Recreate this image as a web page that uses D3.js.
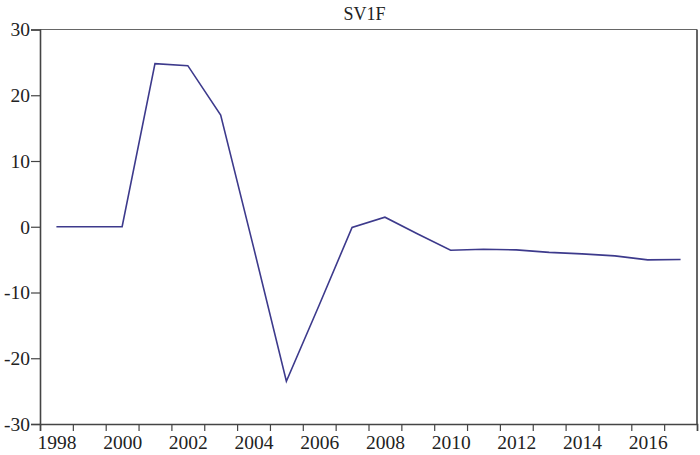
<!DOCTYPE html>
<html><head><meta charset="utf-8">
<script src="https://cdn.jsdelivr.net/npm/d3@7"></script>
<style>
body{margin:0;background:#fff;}
svg text{font-family:"Liberation Serif","Times New Roman",serif;fill:#222;}
</style></head>
<body><svg id="c" width="700" height="455"></svg>
<script>
const title = "SV1F";
const years = [1998,1999,2000,2001,2002,2003,2004,2005,2006,2007,2008,2009,2010,2011,2012,2013,2014,2015,2016,2017];
const values = [0,0,0,24.8,24.5,17.0,-3.1,-23.5,-11.9,-0.1,1.45,-1.1,-3.57,-3.42,-3.52,-3.9,-4.13,-4.43,-5.04,-4.98];
const yTicks = [-30,-20,-10,0,10,20,30];
const xLabelYears = [1998,2000,2002,2004,2006,2008,2010,2012,2014,2016];

const svg = d3.select("#c");
const L=40, R=697, T=29.5, B=424;
const x = d3.scaleLinear().domain([1998,2018]).range([L,R]);
const y = d3.scaleLinear().domain([-30,30]).range([B,T]);

// frame
svg.append("line").attr("x1",L).attr("x2",R).attr("y1",T).attr("y2",T).attr("stroke","#666").attr("stroke-width",1.2);
svg.append("line").attr("x1",R).attr("x2",R).attr("y1",T).attr("y2",B).attr("stroke","#555").attr("stroke-width",1.8);

// y axis
const ya = svg.append("g").attr("transform",`translate(${L},0)`)
  .call(d3.axisLeft(y).tickValues(yTicks).tickSize(9).tickPadding(1).tickFormat(d=>String(d)));
ya.select(".domain").attr("stroke","#444").attr("stroke-width",1.6);
ya.selectAll(".tick line").attr("stroke","#444").attr("stroke-width",1.2);
ya.selectAll("text").style("font-size","19.5px").attr("fill","#222");

// x axis ticks
const xa = svg.append("g").attr("transform",`translate(0,${B})`)
  .call(d3.axisBottom(x).tickValues(d3.range(1998,2019)).tickSize(7).tickFormat(""));
xa.select(".domain").attr("stroke","#444").attr("stroke-width",1.6);
xa.selectAll(".tick line").attr("stroke","#444").attr("stroke-width",1.2);
// x labels
const xl = svg.append("g").attr("transform",`translate(0,${B})`)
  .call(d3.axisBottom(x).tickValues(xLabelYears.map(d=>d+0.5)).tickSize(0).tickPadding(11).tickFormat(d=>String(d-0.5)));
xl.select(".domain").remove();
xl.selectAll("text").style("font-size","19.5px").attr("fill","#222");

// title
svg.append("text").attr("x",(L+R)/2-4).attr("y",20).attr("text-anchor","middle").style("font-size","18px").text(title);

// line
const line = d3.line().x((d,i)=>x(years[i]+0.5)).y(d=>y(d));
svg.append("path").datum(values).attr("d",line).attr("fill","none").attr("stroke","#3d3a8c").attr("stroke-width",1.6).attr("stroke-linejoin","miter");
</script></body></html>
